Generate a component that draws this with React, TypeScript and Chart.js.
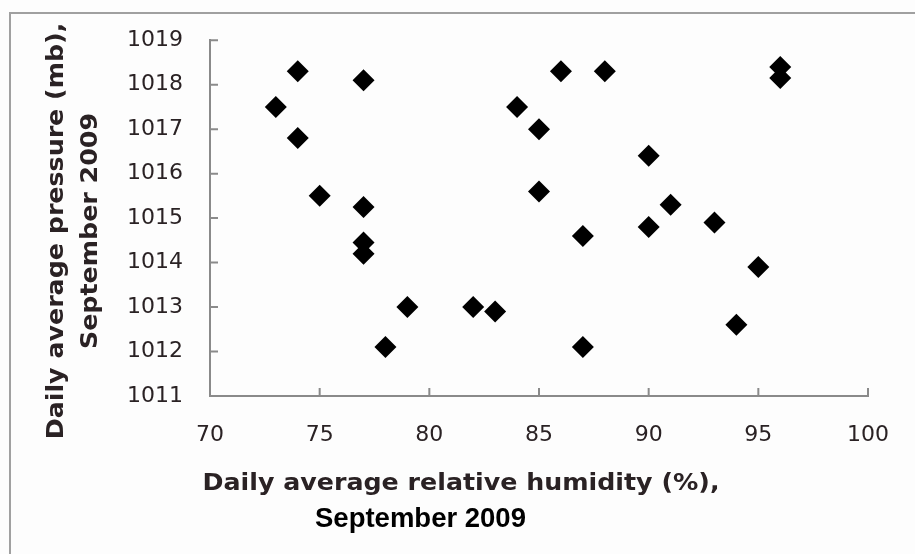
import React, { useEffect, useRef } from "react";
import { Chart, registerables } from "chart.js";

Chart.register(...registerables);

const humidity = [73, 74, 74, 75, 77, 77, 77, 77, 78, 79, 82, 83, 84, 85, 85, 86, 87, 87, 88, 90, 90, 91, 93, 94, 95, 96, 96];
const pressure = [1017.5, 1018.3, 1016.8, 1015.5, 1018.1, 1015.25, 1014.45, 1014.2, 1012.1, 1013.0, 1013.0, 1012.9, 1017.5, 1017.0, 1015.6, 1018.3, 1014.6, 1012.1, 1018.3, 1016.4, 1014.8, 1015.3, 1014.9, 1012.6, 1013.9, 1018.4, 1018.15];

const xTitle1 = "Daily average relative humidity (%),";
const xTitle2 = "September 2009";
const yTitle1 = "Daily average pressure (mb),";
const yTitle2 = "September 2009";

const xMin = 70, xMax = 100, xStep = 5;
const yMin = 1011, yMax = 1019, yStep = 1;

const TEXT = "#2a2224";
const AXIS = "#8a8a8a";
const STRETCH = 1.1;

function stretchedText(ctx: any, text: string, x: number, y: number, rot: number) {
  ctx.save();
  ctx.translate(x, y);
  ctx.rotate(rot);
  ctx.scale(STRETCH, 1);
  ctx.fillText(text, 0, 0);
  ctx.restore();
}

const decorPlugin = {
  id: "decor",
  beforeDraw(chart: any) {
    const ctx = chart.ctx;
    ctx.save();
    ctx.fillStyle = "#fdfdfd";
    ctx.fillRect(0, 0, chart.width, chart.height);
    ctx.strokeStyle = "#a0a0a0";
    ctx.lineWidth = 2;
    ctx.strokeRect(10, 13, chart.width + 20, chart.height + 20);
    ctx.restore();
  },
  afterDraw(chart: any) {
    const ctx = chart.ctx;
    const xs = chart.scales.x;
    const ys = chart.scales.y;
    const area = chart.chartArea;
    ctx.save();
    // inward tick marks
    ctx.strokeStyle = AXIS;
    ctx.lineWidth = 2;
    ctx.beginPath();
    xs.ticks.forEach((t: any) => {
      const px = xs.getPixelForValue(t.value);
      ctx.moveTo(px, area.bottom);
      ctx.lineTo(px, area.bottom - 8);
    });
    ys.ticks.forEach((t: any) => {
      const py = ys.getPixelForValue(t.value);
      ctx.moveTo(area.left, py);
      ctx.lineTo(area.left + 8, py);
    });
    ctx.stroke();

    // axis titles
    ctx.fillStyle = TEXT;
    ctx.textBaseline = "alphabetic";
    ctx.textAlign = "center";
    ctx.font = "bold 23px 'DejaVu Sans'";
    stretchedText(ctx, xTitle1, 461, 490, 0);
    stretchedText(ctx, yTitle1, 63, 231, -Math.PI / 2);
    stretchedText(ctx, yTitle2, 97, 231, -Math.PI / 2);

    ctx.fillStyle = "#000";
    ctx.textAlign = "left";
    ctx.font = "bold 27.5px 'Liberation Sans'";
    ctx.fillText(xTitle2, 315, 527);
    ctx.restore();
  },
};

export default function App() {
  const ref = useRef<HTMLCanvasElement>(null);
  useEffect(() => {
    if (!ref.current) return;
    const points = humidity.map((h, i) => ({ x: h, y: pressure[i] }));
    const chart = new Chart(ref.current, {
      type: "scatter",
      data: {
        datasets: [
          {
            data: points,
            pointStyle: "rectRot",
            pointRadius: 11,
            pointHoverRadius: 11,
            backgroundColor: "#000",
            borderColor: "#000",
            borderWidth: 0,
          },
        ],
      },
      options: {
        responsive: false,
        animation: false,
        devicePixelRatio: 1,
        layout: { padding: { left: 10, right: 41, top: 39, bottom: 0 } },
        plugins: { legend: { display: false }, tooltip: { enabled: false } },
        scales: {
          x: {
            type: "linear",
            min: xMin,
            max: xMax,
            afterFit: (s: any) => { s.height = 158; },
            ticks: { stepSize: xStep, color: TEXT, padding: 26, font: { family: "'DejaVu Sans'", size: 22 }, callback: (v: any) => String(v) },
            grid: { display: false, drawTicks: false },
            border: { display: true, color: AXIS, width: 2 },
          },
          y: {
            type: "linear",
            min: yMin,
            max: yMax,
            afterFit: (s: any) => { s.width = 200; },
            ticks: { stepSize: yStep, color: TEXT, padding: 27, font: { family: "'DejaVu Sans'", size: 22 }, callback: (v: any) => String(v) },
            grid: { display: false, drawTicks: false },
            border: { display: true, color: AXIS, width: 2 },
          },
        },
      },
      plugins: [decorPlugin],
    });
    return () => chart.destroy();
  }, []);
  return (
    <div style={{ position: "absolute", left: 0, top: 0, width: 915, height: 554 }}>
      <canvas ref={ref} width={915} height={554} />
    </div>
  );
}
